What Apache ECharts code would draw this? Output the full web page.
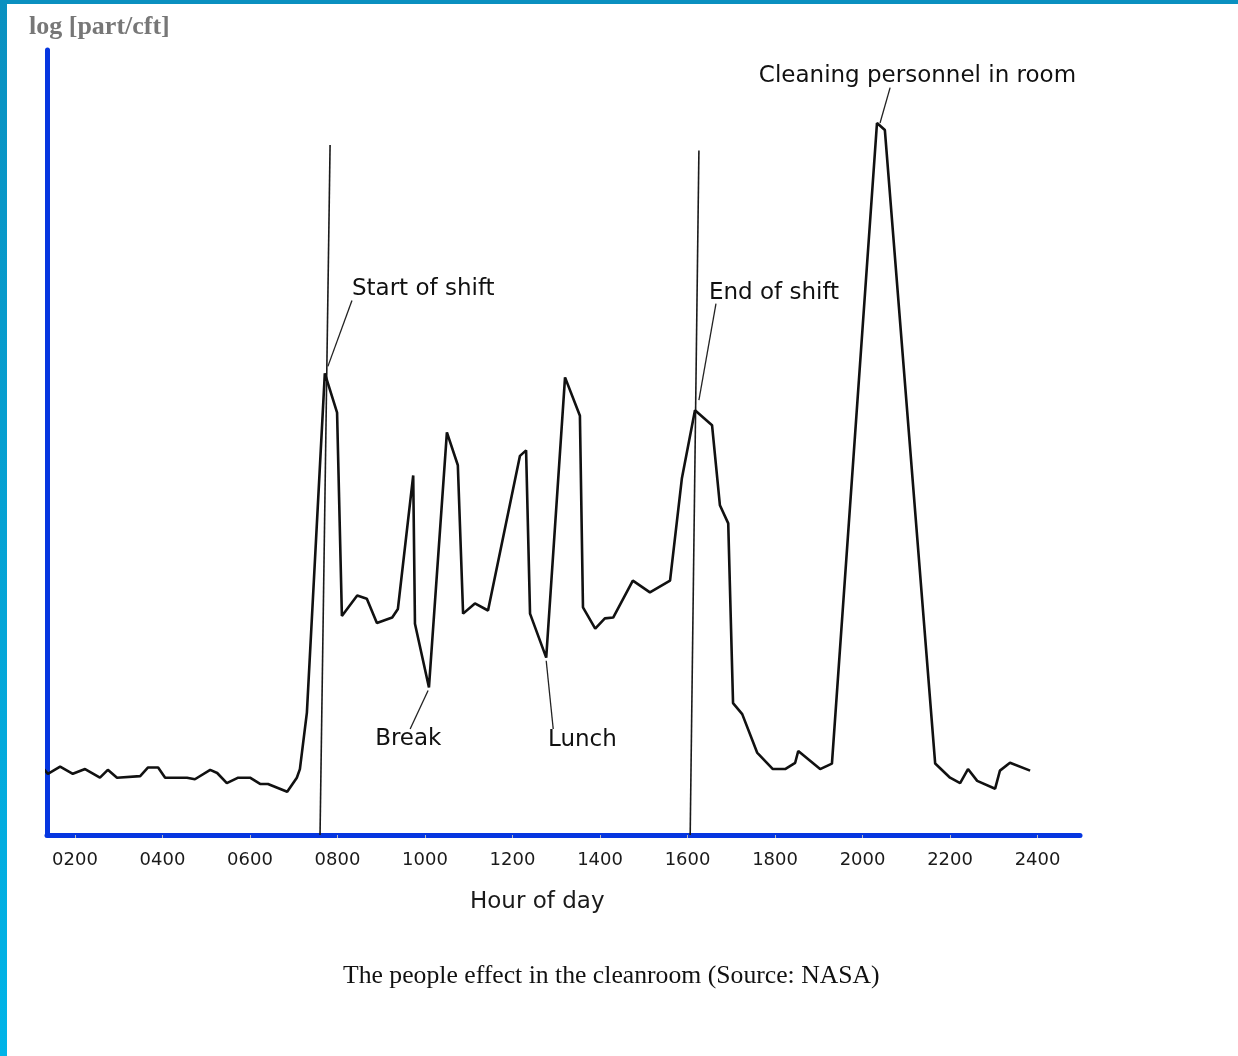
<!DOCTYPE html>
<html lang="en">
<head>
    <meta charset="utf-8">
    <title>The people effect in the cleanroom</title>
    <style>
        html, body { margin: 0; padding: 0; background: #fff; }
    </style>
</head>
<body>
    <div id="main" style="width:1238px;height:1056px;"></div>
    <script src="https://cdn.jsdelivr.net/npm/echarts@6/dist/echarts.min.js"></script>
    <script type="text/javascript">

        // hour of day (decimal) and log particle level (arbitrary units, 0 = axis)
        var hours = [1.22, 1.38, 1.66, 1.95, 2.23, 2.57, 2.75, 2.96, 3.49, 3.67, 3.90, 4.06, 4.56, 4.74,
            5.09, 5.25, 5.47, 5.73, 6.00, 6.23, 6.41, 6.85, 7.07, 7.14, 7.30, 7.71, 7.99, 8.10, 8.45,
            8.67, 8.90, 9.25, 9.38, 9.73, 9.77, 10.09, 10.50, 10.75, 10.87, 11.14, 11.44, 12.17, 12.31,
            12.40, 12.77, 13.20, 13.54, 13.61, 13.89, 14.11, 14.30, 14.75, 15.14, 15.60, 15.87, 16.17,
            16.56, 16.74, 16.93, 17.04, 17.25, 17.59, 17.95, 18.23, 18.46, 18.53, 19.03, 19.30, 20.33,
            20.51, 21.66, 22.00, 22.23, 22.41, 22.62, 23.03, 23.14, 23.37, 23.83];
        var levels = [8.8, 7.8, 8.7, 7.8, 8.4, 7.3, 8.3, 7.3, 7.5, 8.6, 8.6, 7.3, 7.3, 7.1,
            8.3, 7.9, 6.6, 7.3, 7.3, 6.5, 6.5, 5.5, 7.3, 8.4, 15.6, 58.8, 53.8, 27.9, 30.5,
            30.1, 27.0, 27.7, 28.8, 45.8, 26.9, 18.8, 51.3, 47.1, 28.2, 29.5, 28.6, 48.3, 49.0,
            28.2, 22.6, 58.3, 53.4, 29.0, 26.3, 27.6, 27.7, 32.4, 30.9, 32.4, 45.4, 54.1,
            52.2, 42.0, 39.7, 16.8, 15.4, 10.5, 8.4, 8.4, 9.2, 10.7, 8.4, 9.1, 90.7,
            89.8, 9.1, 7.3, 6.6, 8.4, 6.9, 5.9, 8.2, 9.2, 8.2];

        var tickHours = [2, 4, 6, 8, 10, 12, 14, 16, 18, 20, 22, 24];
        var tickLabels = ['0200', '0400', '0600', '0800', '1000', '1200', '1400', '1600', '1800', '2000', '2200', '2400'];

        // shift markers: [hour at top, level at top, hour at bottom, level at bottom]
        var shiftMarkers = [[7.83, 87.9, 7.60, 0], [16.26, 87.2, 16.06, 0]];

        // annotations: text, text anchor (hour, level), leader start, leader end
        var noteTexts = ['Start of shift', 'End of shift', 'Cleaning personnel in room', 'Break', 'Lunch'];
        var noteAnchors = [[8.33, 69.5], [16.49, 69.1], [17.63, 96.7], [8.86, 12.2], [12.81, 12.1]];
        var leaderFrom = [[8.33, 68.1], [16.65, 67.7], [20.63, 95.2], [10.07, 18.4], [12.77, 22.2]];
        var leaderTo = [[7.78, 59.7], [16.26, 55.4], [20.40, 90.7], [9.66, 13.5], [12.93, 13.5]];

        var blue = '#0636e0';
        var sans = 'DejaVu Sans';

        var lineData = hours.map(function (h, i) { return [h, levels[i]]; });
        var markerData = shiftMarkers.map(function (m) {
            return { coords: [[m[0], m[1]], [m[2], m[3]]] };
        });
        var leaderData = leaderFrom.map(function (p, i) {
            return { coords: [p, leaderTo[i]] };
        });
        var noteData = noteTexts.map(function (t, i) {
            return { name: t, value: noteAnchors[i] };
        });

        var myChart = echarts.init(document.getElementById('main'));

        var option = {
            backgroundColor: '#fff',
            animation: false,
            grid: {
                left: 47,
                right: 158,
                top: 50,
                bottom: 221
            },
            xAxis: {
                type: 'value',
                min: 1.36,
                max: 24.97,
                axisLine: {
                    show: true,
                    lineStyle: { color: blue, width: 5 }
                },
                axisTick: {
                    show: true,
                    customValues: tickHours,
                    length: 3,
                    lineStyle: { color: '#bbb', width: 1 }
                },
                splitLine: { show: false },
                axisLabel: {
                    customValues: tickHours,
                    margin: 16,
                    color: '#1a1a1a',
                    fontFamily: sans,
                    fontSize: 18,
                    formatter: function (v) {
                        var i = tickHours.indexOf(v);
                        return i >= 0 ? tickLabels[i] : '';
                    }
                }
            },
            yAxis: {
                type: 'value',
                min: 0,
                max: 100,
                axisLine: {
                    show: true,
                    lineStyle: { color: blue, width: 5 }
                },
                axisTick: { show: false },
                axisLabel: { show: false },
                splitLine: { show: false }
            },
            graphic: [
                {
                    type: 'rect',
                    shape: { x: 0, y: 0, width: 1238, height: 4 },
                    style: { fill: '#0a90c0' },
                    silent: true
                },
                {
                    type: 'rect',
                    shape: { x: 0, y: 0, width: 7, height: 1056 },
                    style: {
                        fill: new echarts.graphic.LinearGradient(0, 0, 0, 1, [
                            { offset: 0, color: '#0a90c0' },
                            { offset: 1, color: '#00b4e8' }
                        ])
                    },
                    silent: true
                },
                {
                    type: 'text',
                    left: 29,
                    top: 14,
                    style: {
                        text: 'log [part/cft]',
                        fill: '#777',
                        font: 'bold 26px "Liberation Serif"'
                    }
                },
                {
                    type: 'text',
                    left: 470,
                    top: 891,
                    style: {
                        text: 'Hour of day',
                        fill: '#1a1a1a',
                        font: '23px "DejaVu Sans"'
                    }
                },
                {
                    type: 'text',
                    left: 343,
                    top: 963,
                    style: {
                        text: 'The people effect in the cleanroom (Source: NASA)',
                        fill: '#111',
                        font: '25.7px "Liberation Serif"'
                    }
                }
            ],
            series: [
                {
                    name: 'particles',
                    type: 'line',
                    data: lineData,
                    symbol: 'none',
                    clip: false,
                    lineStyle: { color: '#111', width: 2.6 },
                    z: 3
                },
                {
                    name: 'shift',
                    type: 'lines',
                    coordinateSystem: 'cartesian2d',
                    data: markerData,
                    lineStyle: { color: '#1a1a1a', width: 1.6, opacity: 1 },
                    z: 2
                },
                {
                    name: 'leaders',
                    type: 'lines',
                    coordinateSystem: 'cartesian2d',
                    data: leaderData,
                    lineStyle: { color: '#222', width: 1.3, opacity: 1 },
                    z: 2
                },
                {
                    name: 'notes',
                    type: 'scatter',
                    data: noteData,
                    symbolSize: 0,
                    itemStyle: { opacity: 1 },
                    label: {
                        show: true,
                        position: 'inside',
                        align: 'left',
                        verticalAlign: 'middle',
                        color: '#111',
                        fontFamily: sans,
                        fontSize: 23,
                        formatter: function (p) { return p.name; }
                    },
                    z: 4
                }
            ]
        };
        myChart.setOption(option);
    </script>
</body>
</html>
